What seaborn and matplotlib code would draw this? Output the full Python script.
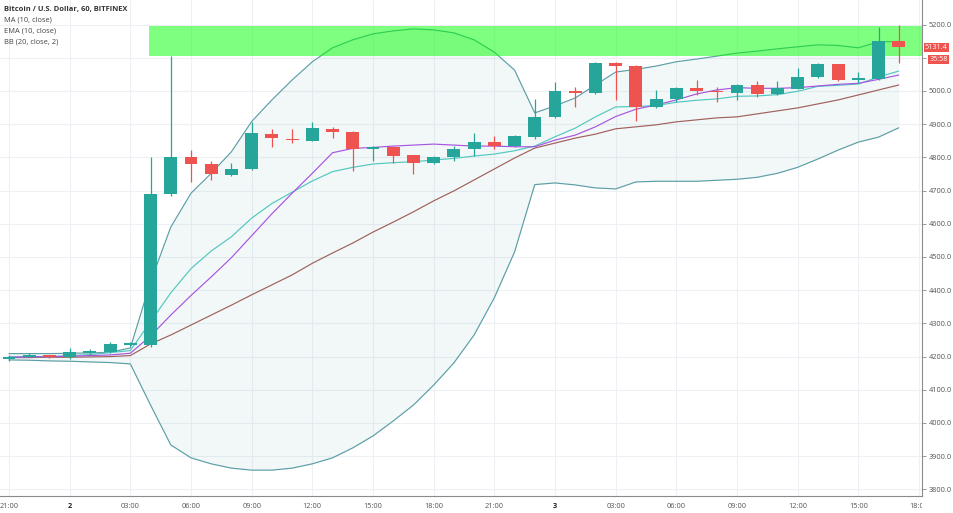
import numpy as np
import pandas as pd
import matplotlib
matplotlib.use('Agg')
import matplotlib.pyplot as plt
import seaborn as sns
from matplotlib.patches import Rectangle
from matplotlib.transforms import Bbox, TransformedBbox, blended_transform_factory

# Hourly candles, 21:00 (day 1) .. 17:00 (day 3)
opens = [4192, 4200, 4204, 4199, 4212, 4215, 4236, 4235, 4689, 4800,
         4779, 4746, 4765, 4871, 4856, 4850, 4886, 4877, 4825, 4832,
         4807, 4782, 4801, 4824, 4845, 4834, 4862, 4922, 5001, 4995,
         5085, 5075, 4953, 4976, 5010, 5000, 4995, 5018, 4991, 5007,
         5043, 5080, 5033, 5036, 5150]
highs = [4205, 4212, 4206, 4227, 4222, 4244, 4245, 4802, 5105, 4822,
         4788, 4782, 4908, 4884, 4884, 4908, 4890, 4879, 4834, 4834,
         4808, 4804, 4834, 4873, 4864, 4866, 4975, 5026, 5012, 5088,
         5088, 5078, 5003, 5012, 5033, 5013, 5020, 5030, 5031, 5069,
         5083, 5082, 5056, 5194, 5199]
lows = [4188, 4198, 4197, 4192, 4209, 4212, 4232, 4228, 4685, 4727,
        4732, 4744, 4762, 4832, 4842, 4848, 4857, 4760, 4789, 4784,
        4749, 4779, 4790, 4804, 4824, 4832, 4855, 4918, 4953, 4990,
        4973, 4911, 4950, 4968, 4987, 4968, 4973, 4981, 4988, 5005,
        5040, 5030, 5023, 5033, 5083]
closes = [4200, 4204, 4199, 4214, 4218, 4238, 4240, 4690, 4802, 4779,
          4749, 4766, 4874, 4858, 4851, 4888, 4877, 4825, 4831, 4805,
          4784, 4801, 4824, 4845, 4835, 4864, 4922, 5001, 4995, 5085,
          5075, 4953, 4977, 5010, 4999, 4996, 5017, 4991, 5009, 5042,
          5080, 5033, 5038, 5150, 5131.4]

ma10 = [4198, 4199, 4200, 4201, 4203, 4205, 4210, 4262, 4325, 4384,
        4440, 4498, 4564, 4630, 4692, 4752, 4814, 4827, 4830, 4834,
        4837, 4840, 4837, 4834, 4834, 4832, 4832, 4852, 4867, 4892,
        4923, 4945, 4958, 4973, 4991, 5003, 5010, 5008, 5008, 5010,
        5015, 5020, 5023, 5035, 5048]
ema10 = [4199, 4200, 4200, 4203, 4206, 4212, 4218, 4305, 4392, 4465,
         4518, 4561, 4617, 4661, 4695, 4729, 4757, 4770, 4780, 4784,
         4787, 4792, 4797, 4804, 4810, 4820, 4834, 4862, 4888, 4922,
         4952, 4953, 4956, 4966, 4972, 4976, 4984, 4985, 4989, 4999,
         5014, 5017, 5021, 5042, 5060]
bb_basis = [4197, 4197, 4198, 4198, 4199, 4200, 4203, 4238, 4265, 4295,
            4325, 4355, 4386, 4416, 4446, 4481, 4512, 4542, 4575, 4605,
            4636, 4669, 4699, 4732, 4765, 4798, 4828, 4843, 4858, 4870,
            4886, 4892, 4898, 4907, 4913, 4919, 4922, 4931, 4940, 4949,
            4961, 4973, 4988, 5003, 5018]
bb_upper = [4209, 4209, 4209, 4210, 4211, 4213, 4226, 4425, 4590, 4692,
            4752, 4817, 4908, 4973, 5033, 5088, 5130, 5154, 5172, 5181,
            5187, 5184, 5175, 5154, 5117, 5063, 4934, 4955, 4979, 5018,
            5057, 5065, 5075, 5088, 5096, 5105, 5114, 5120, 5127, 5133,
            5139, 5137, 5130, 5148, 5149]
bb_lower = [4190, 4189, 4187, 4186, 4184, 4182, 4178, 4054, 3934, 3895,
            3877, 3864, 3858, 3858, 3864, 3877, 3895, 3925, 3961, 4006,
            4054, 4114, 4181, 4265, 4377, 4515, 4718, 4723, 4717, 4708,
            4705, 4726, 4728, 4728, 4728, 4731, 4734, 4740, 4752, 4770,
            4795, 4822, 4846, 4861, 4889]

tick_pos = list(range(0, 46, 3))
tick_labels = ['21:00', '2', '03:00', '06:00', '09:00', '12:00', '15:00', '18:00',
               '21:00', '3', '03:00', '06:00', '09:00', '12:00', '15:00', '18:00']
price_ticks = list(range(3800, 5201, 100))

zone_low, zone_high = 5105, 5196
last_price = '5131.4'
countdown = '35:58'

GREEN = '#26a69a'
RED = '#ef5350'

sns.set_style('white')
plt.rcParams['font.family'] = ['Open Sans', 'DejaVu Sans']

df = pd.DataFrame({'idx': np.arange(len(closes)), 'open': opens, 'high': highs,
                   'low': lows, 'close': closes, 'ma': ma10, 'ema': ema10,
                   'basis': bb_basis, 'upper': bb_upper, 'lower': bb_lower})

W, H = 954, 513
fig = plt.figure(figsize=(W / 100, H / 100), dpi=100)
ax = fig.add_axes([0, 17.3 / H, 922 / W, 495.7 / H])
ax.set_xlim(-0.445, 45.15)
ax.set_ylim(3781, 5274)

# grid
for p in tick_pos:
    ax.axvline(p, color='#edf1f5', lw=0.8, zorder=0)
for p in price_ticks:
    ax.axhline(p, color='#edf1f5', lw=0.8, zorder=0)

# bollinger fill + lines
ax.fill_between(df['idx'], df['lower'], df['upper'], color='#5fb0b0', alpha=0.08,
                lw=0, zorder=1)
sns.lineplot(data=df, x='idx', y='upper', color='#5c9ea6', lw=0.85, ax=ax, zorder=2)
sns.lineplot(data=df, x='idx', y='lower', color='#5c9ea6', lw=0.85, ax=ax, zorder=2)
sns.lineplot(data=df, x='idx', y='basis', color='#a0605c', lw=0.85, ax=ax, zorder=2)
sns.lineplot(data=df, x='idx', y='ema', color='#52c7be', lw=0.85, ax=ax, zorder=2)
sns.lineplot(data=df, x='idx', y='ma', color='#a855e0', lw=0.85, ax=ax, zorder=2)

# drawn zone
ax.add_patch(Rectangle((6.93, zone_low), 50, zone_high - zone_low, facecolor=(0, 1, 0),
                       alpha=0.5, lw=0, zorder=3))

# candles
up = df['close'] >= df['open']
cols = np.where(up, GREEN, RED)
bottoms = np.minimum(df['open'], df['close'])
heights = np.maximum(np.abs(df['close'] - df['open']), 4)
ax.vlines(df['idx'], df['low'], df['high'], colors=cols, lw=0.9, zorder=4)
ax.bar(df['idx'], heights, bottom=bottoms, width=0.64, color=cols, lw=0, zorder=5)

# axes styling
ax.set_xlabel('')
ax.set_ylabel('')
for s in ['top', 'left']:
    ax.spines[s].set_visible(False)
for s in ['right', 'bottom']:
    ax.spines[s].set_color('#8a8a8a')
    ax.spines[s].set_linewidth(0.8)
ax.yaxis.tick_right()
ax.set_yticks(price_ticks)
# the 5100 label sits under the countdown box on the price scale
ax.set_yticklabels(['' if p == 5100 else f'{p:.1f}' for p in price_ticks])
ax.set_xticks(tick_pos)
ax.set_xticklabels(tick_labels)
ax.tick_params(axis='both', labelsize=5.3, colors='#8a8a8a', labelcolor='#555555',
               length=3, width=0.6, pad=2)
for lab in ax.get_xticklabels():
    if lab.get_text() in ('2', '3'):
        lab.set_color('#222222')
        lab.set_fontweight('bold')
clip = TransformedBbox(Bbox([[0, 0], [922 / W, 1]]), fig.transFigure)
last = ax.get_xticklabels()[-1]
last.set_clip_box(clip)
last.set_clip_on(True)

# legend text, top-left
fig.text(4 / W, 1 - 9 / H, 'Bitcoin / U.S. Dollar, 60, BITFINEX', fontsize=5.4,
         fontweight='bold', color='#333333', va='center', ha='left')
for k, t in enumerate(['MA (10, close)', 'EMA (10, close)', 'BB (20, close, 2)']):
    fig.text(4 / W, 1 - (20 + 11 * k) / H, t, fontsize=5.4, color='#444444',
             va='center', ha='left')

# price scale labels
tr = blended_transform_factory(ax.transAxes, ax.transData)
ax.text(1.003, float(last_price), last_price, transform=tr, fontsize=5.2, color='white',
        ha='left', va='center', clip_on=False,
        bbox=dict(boxstyle='square,pad=0.15', fc=RED, ec='none'))
ax.text(1.008, 5096, countdown, transform=tr, fontsize=5.2, color='white',
        ha='left', va='center', clip_on=False,
        bbox=dict(boxstyle='square,pad=0.15', fc=RED, ec='none'))

fig.savefig('out.png', dpi=100)
